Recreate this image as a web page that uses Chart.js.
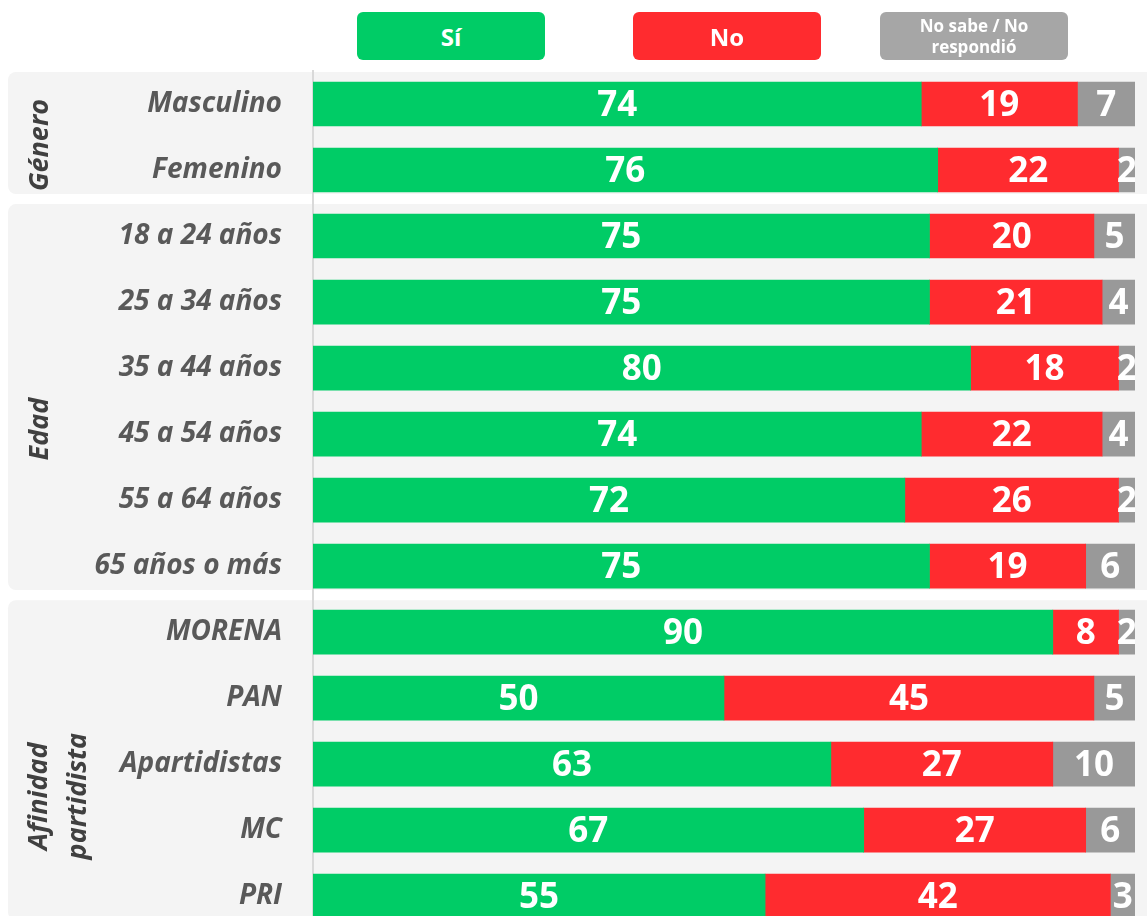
<!DOCTYPE html>
<html>
<head>
<meta charset="utf-8">
<script src="https://cdn.jsdelivr.net/npm/chart.js@4"></script>
<style>
  html, body { margin: 0; padding: 0; background: #fff; overflow: hidden; }
  #wrap { position: relative; width: 1147px; height: 916px; overflow: hidden; font-family: "Open Sans", sans-serif; }
  #chart { position: absolute; left: 0; top: 0; }
  .key {
    position: absolute; top: 12px; width: 188px; height: 48px; border-radius: 6px;
    color: #fff; font-weight: bold; display: flex; align-items: center; justify-content: center;
    text-align: center;
  }
</style>
</head>
<body>
<div id="wrap">
  <canvas id="chart" width="1147" height="977"></canvas>
</div>
<script>
const categories = ['Masculino', 'Femenino', '18 a 24 años', '25 a 34 años', '35 a 44 años', '45 a 54 años',
  '55 a 64 años', '65 años o más', 'MORENA', 'PAN', 'Apartidistas', 'MC', 'PRI'];
const siValues = [74, 76, 75, 75, 80, 74, 72, 75, 90, 50, 63, 67, 55];
const noValues = [19, 22, 20, 21, 18, 22, 26, 19, 8, 45, 27, 27, 42];
const nsValues = [7, 2, 5, 4, 2, 4, 2, 6, 2, 5, 10, 6, 3];
const seriesNames = ['Sí', 'No', 'No sabe / No respondió'];
const groupNames = [['Género'], ['Edad'], ['Afinidad', 'partidista']];
const groupRows = [[0, 1], [2, 7], [8, 12]];

const colors = ['#00cc66', '#ff2b2f', '#999999'];
const keyColors = ['#00cc66', '#ff2b2f', '#a6a6a6'];
const keyLeft = [357, 633, 880];

// legend boxes
const wrap = document.getElementById('wrap');
seriesNames.forEach((name, i) => {
  const d = document.createElement('div');
  d.className = 'key';
  d.style.left = keyLeft[i] + 'px';
  d.style.background = keyColors[i];
  if (i === 2) {
    d.style.fontSize = '17px';
    d.style.lineHeight = '21px';
    d.innerHTML = 'No sabe / No<br>respondió';
  } else {
    d.style.fontSize = '24px';
    d.textContent = name;
  }
  wrap.appendChild(d);
});

// grey group bands + rotated group names
const bands = {
  id: 'bands',
  beforeDraw(chart) {
    const { ctx, scales: { y } } = chart;
    const labelShift = [12, 32, 36];
    ctx.save();
    groupRows.forEach(([a, b], gi) => {
      const top = y.getPixelForValue(a) - 32;
      const bottom = y.getPixelForValue(b) + 24;
      ctx.fillStyle = '#f4f4f4';
      ctx.beginPath();
      ctx.roundRect(8, top, chart.width + 20, bottom - top, 8);
      ctx.fill();

      const cy = (top + bottom) / 2 + labelShift[gi];
      const lines = groupNames[gi];
      ctx.save();
      ctx.fillStyle = '#404040';
      ctx.font = 'italic bold 27px "Open Sans"';
      ctx.textAlign = 'center';
      ctx.textBaseline = 'middle';
      lines.forEach((t, li) => {
        const cx = 40 + li * 39 - (lines.length - 1) * 1;
        ctx.save();
        ctx.translate(cx, cy);
        ctx.rotate(-Math.PI / 2);
        ctx.fillText(t, 0, 0);
        ctx.restore();
      });
      ctx.restore();
    });
    ctx.restore();
  }
};

const barLabels = {
  id: 'barLabels',
  afterDatasetsDraw(chart) {
    const { ctx, chartArea } = chart;
    ctx.save();
    ctx.beginPath();
    ctx.rect(chartArea.left, 0, chartArea.right - chartArea.left, chart.height);
    ctx.clip();
    ctx.fillStyle = '#fff';
    ctx.font = 'bold 35px "Open Sans"';
    ctx.textAlign = 'center';
    ctx.textBaseline = 'middle';
    chart.data.datasets.forEach((ds, di) => {
      chart.getDatasetMeta(di).data.forEach((bar, i) => {
        const x = (bar.x + bar.base) / 2;
        ctx.fillText(String(ds.data[i]), x, bar.y + 2);
      });
    });
    ctx.restore();
  }
};

new Chart(document.getElementById('chart'), {
  type: 'bar',
  data: {
    labels: categories,
    datasets: [siValues, noValues, nsValues].map((vals, i) => ({
      label: seriesNames[i],
      data: vals,
      backgroundColor: colors[i],
      barThickness: 44,
      borderWidth: 0,
    })),
  },
  options: {
    responsive: false,
    animation: false,
    indexAxis: 'y',
    layout: { padding: { top: 71, bottom: 11, right: 12, left: 0 } },
    plugins: {
      legend: { display: false },
      tooltip: { enabled: false },
    },
    scales: {
      x: {
        stacked: true,
        min: 0,
        max: 100,
        display: false,
      },
      y: {
        stacked: true,
        grid: { display: false, drawTicks: false },
        border: { display: true, color: '#d9d9d9', width: 2 },
        ticks: {
          padding: 31,
          color: '#595959',
          font: { family: 'Open Sans', size: 28, weight: 'bold', style: 'italic' },
        },
        afterFit(scale) { scale.width = 313; },
      },
    },
  },
  plugins: [bands, barLabels],
});
</script>
</body>
</html>
